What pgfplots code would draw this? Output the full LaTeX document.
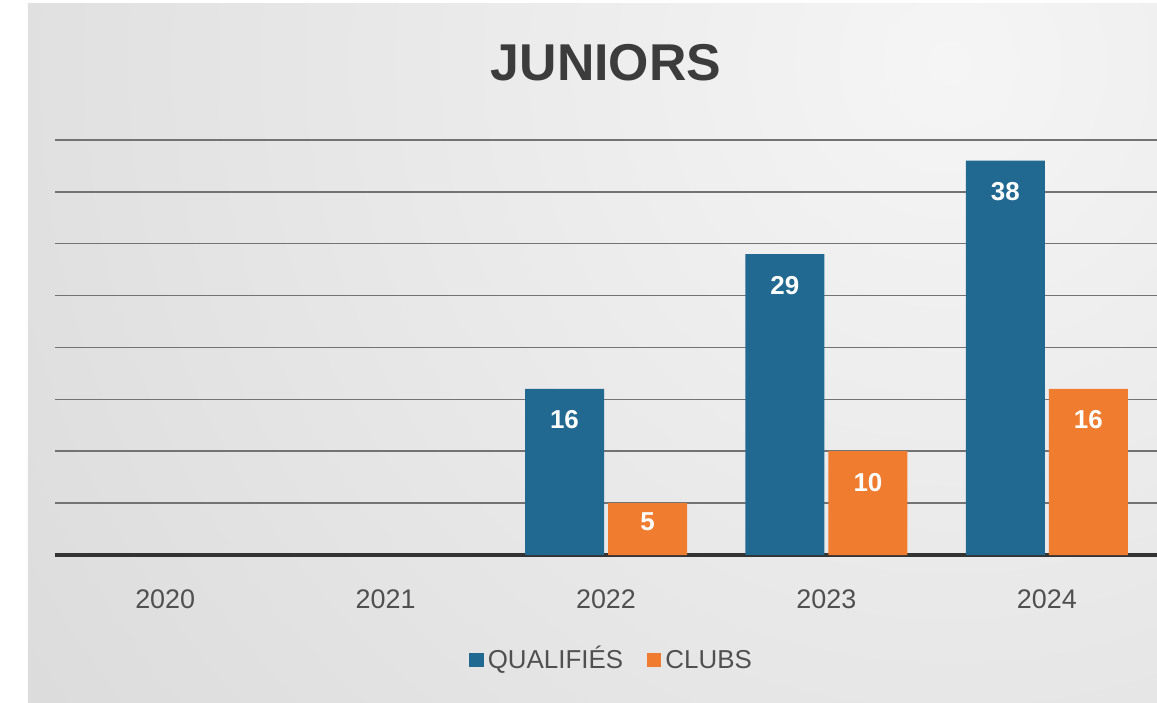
\documentclass[border=0pt]{standalone}
\usepackage{pgfplots}
\pgfplotsset{compat=1.18}
\usepackage{fontspec}
\setmainfont{Liberation Sans}
\definecolor{qblue}{RGB}{33,105,145}
\definecolor{corange}{RGB}{240,124,48}
\definecolor{gridc}{RGB}{115,115,115}
\definecolor{txt}{RGB}{80,80,80}
\definecolor{titlec}{RGB}{60,60,60}
\definecolor{bgin}{RGB}{245,245,245}
\definecolor{bgout}{RGB}{200,200,200}
\begin{document}
\begin{tikzpicture}
\useasboundingbox (0bp,0bp) rectangle (578.5bp,351.5bp);
\begin{scope}[x=0.5bp,y=0.5bp]
\clip (28,0) rectangle (1157,700);
\fill[bgout] (28,0) rectangle (1157,700);
\shade[inner color=bgin, outer color=bgout] (950,640) circle (2000);
\end{scope}
\node[font=\bfseries\fontsize{26}{30}\selectfont, text=titlec] at (303bp,320bp) {JUNIORS};
\begin{axis}[
  at={(27.5bp,74bp)}, anchor=south west,
  scale only axis, width=551bp, height=207.5bp,
  xmin=-0.5, xmax=4.5, ymin=0, ymax=40,
  ybar=2bp, bar width=39.5bp,
  axis line style={draw=none},
  xtick={0,1,2,3,4}, xticklabels={2020,2021,2022,2023,2024},
  ytick={5,10,...,40}, yticklabels={},
  ymajorgrids, grid style={gridc, line width=0.75bp},
  extra y ticks={0}, extra y tick labels={},
  extra y tick style={grid style={black!80, line width=1.6bp}},
  major tick length=0,
  tick label style={font=\fontsize{13.5}{16}\selectfont, text=txt},
  xticklabel style={yshift=-14bp},
  clip=false,
  /pgf/number format/assume math mode=true,
  legend style={at={(0.506,-0.253)}, anchor=center, draw=none, fill=none,
    legend columns=2, font=\fontsize{13}{15}\selectfont, text=txt,
    nodes={text height=9.5bp, text depth=0.5bp},
    /tikz/every even column/.append style={column sep=10bp}},
  legend image code/.code={\fill[#1] (0bp,-3.6bp) rectangle (7.2bp,3.6bp);},
  visualization depends on={rawy \as \yv},
  nodes near coords,
  nodes near coords style={font=\bfseries\fontsize{13}{15}\selectfont, text=white,
    anchor=center, yshift={-min(15.5,1.9*\yv)*1bp}},
]
\addplot[fill=qblue, draw=none] coordinates {(2,16) (3,29) (4,38)};
\addplot[fill=corange, draw=none] coordinates {(2,5) (3,10) (4,16)};
\legend{QUALIFIÉS, CLUBS}
\end{axis}
\end{tikzpicture}
\end{document}
